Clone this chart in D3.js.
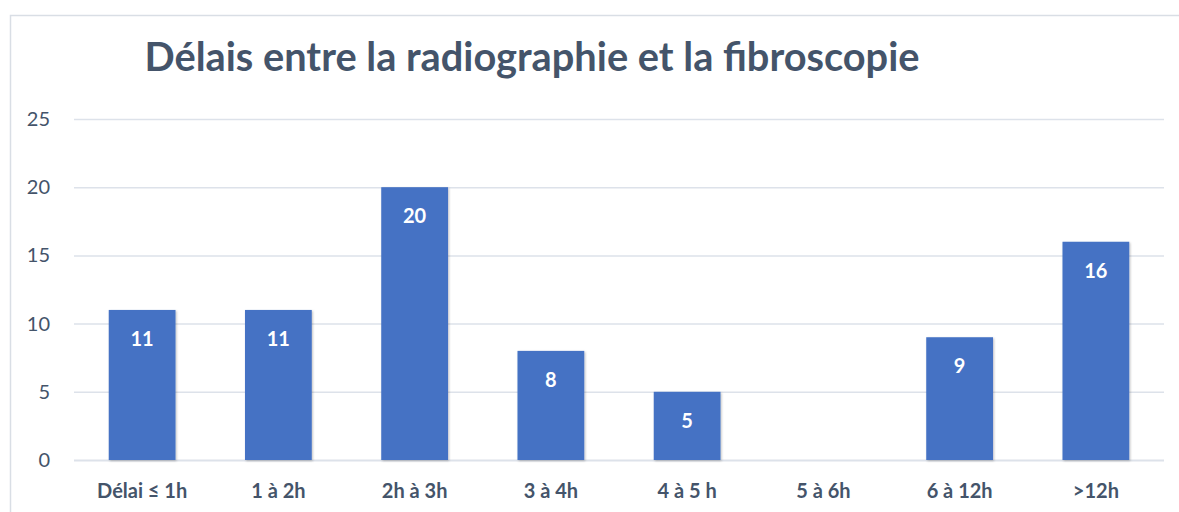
<!DOCTYPE html>
<html><head><meta charset="utf-8">
<script src="https://cdn.jsdelivr.net/npm/d3@7"></script>
<style>body{margin:0;background:#fff}svg{display:block}</style>
</head><body>
<script>
const categories = ["Délai ≤ 1h","1 à 2h","2h à 3h","3 à 4h","4 à 5 h","5 à 6h","6 à 12h",">12h"];
const values = [11,11,20,8,5,null,9,16];
const yTicks = [0,5,10,15,20,25];
const title = "Délais entre la radiographie et la fibroscopie";

const W=1179,H=512;
const svg=d3.select("body").append("svg").attr("width",W).attr("height",H);
const font="Lato, 'Open Sans', sans-serif";
const textColor="#44546a";

svg.append("rect").attr("x",10.5).attr("y",15.5).attr("width",W).attr("height",H)
  .attr("fill","#fff").attr("stroke","#d9dee5").attr("stroke-width",1.5);

const defs=svg.append("defs");
const f=defs.append("filter").attr("id","sh").attr("x","-10%").attr("y","-10%").attr("width","130%").attr("height","130%");
f.append("feDropShadow").attr("dx",1).attr("dy",1).attr("stdDeviation",1.2).attr("flood-color","#000").attr("flood-opacity",0.25);

const x=d3.scaleBand().domain(categories).range([74,1164]).paddingInner(0.51).paddingOuter(0.255);
const y=d3.scaleLinear().domain([0,25]).range([460,119]);

const g=svg.append("g");
g.selectAll("line.grid").data(yTicks).join("line").attr("class","grid")
  .attr("x1",74).attr("x2",1164).attr("y1",d=>y(d)+0.5).attr("y2",d=>y(d)+0.5)
  .attr("stroke","#dde2ea").attr("stroke-width",d=>d===0?2:1.5);

const yAxis=svg.append("g").attr("transform","translate(50,0)")
  .call(d3.axisLeft(y).tickValues(yTicks).tickSize(0).tickPadding(0));
yAxis.select(".domain").remove();
yAxis.selectAll("text").attr("font-family",font).attr("font-size",20).attr("fill",textColor);

const data=categories.map((c,i)=>({c,v:values[i]}));
svg.selectAll("rect.bar").data(data.filter(d=>d.v!=null)).join("rect").attr("class","bar")
  .attr("x",d=>x(d.c)).attr("width",x.bandwidth())
  .attr("y",d=>y(d.v)).attr("height",d=>y(0)-y(d.v))
  .attr("fill","#4472c4").attr("filter","url(#sh)");

svg.selectAll("text.lbl").data(data.filter(d=>d.v!=null)).join("text").attr("class","lbl")
  .attr("x",d=>x(d.c)+x.bandwidth()/2).attr("y",d=>y(d.v)+36)
  .attr("text-anchor","middle").attr("font-family",font).attr("font-weight","bold")
  .attr("font-size",20).attr("fill","#fff").text(d=>d.v);

const xAxis=svg.append("g").attr("transform","translate(0,460)")
  .call(d3.axisBottom(x).tickSize(0).tickPadding(0));
xAxis.select(".domain").remove();
xAxis.selectAll("text").attr("dy",null).attr("y",38).attr("font-family",font).attr("font-weight","bold")
  .attr("font-size",20).attr("fill",textColor);

const t=svg.append("text").attr("x",532).attr("y",71).attr("text-anchor","middle")
  .attr("font-family",font).attr("font-weight","bold").attr("font-size",32).attr("fill",textColor).text(title);
const len=t.node().getComputedTextLength();
t.attr("font-size",32*775/len);
</script>
</body></html>
